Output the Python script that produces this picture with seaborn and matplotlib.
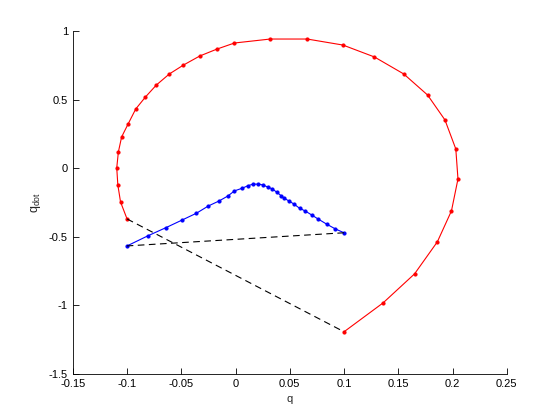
import matplotlib
matplotlib.use("Agg")
import matplotlib.pyplot as plt
import seaborn as sns
import pandas as pd

# red trajectory (q, q_dot)
red_q = [0.100, 0.136, 0.165, 0.186, 0.199, 0.205, 0.203, 0.193, 0.177, 0.155,
         0.128, 0.099, 0.066, 0.032, -0.001, -0.017, -0.033, -0.048, -0.061,
         -0.073, -0.083, -0.092, -0.099, -0.105, -0.108, -0.1095, -0.1085,
         -0.106, -0.100]
red_qdot = [-1.193, -0.982, -0.770, -0.536, -0.310, -0.077, 0.142, 0.354, 0.536,
            0.690, 0.814, 0.901, 0.945, 0.945, 0.916, 0.872, 0.821, 0.755, 0.690,
            0.609, 0.522, 0.434, 0.325, 0.230, 0.120, 0.004, -0.120, -0.245,
            -0.369]

# blue trajectory
blue_q = [-0.100, -0.081, -0.064, -0.049, -0.036, -0.025, -0.015, -0.007, -0.001,
          0.006, 0.0115, 0.016, 0.021, 0.025, 0.030, 0.034, 0.038, 0.042, 0.045,
          0.049, 0.054, 0.059, 0.064, 0.070, 0.076, 0.084, 0.092, 0.100]
blue_qdot = [-0.566, -0.493, -0.432, -0.376, -0.327, -0.274, -0.237, -0.201, -0.164,
             -0.145, -0.126, -0.115, -0.115, -0.120, -0.137, -0.150, -0.174, -0.199,
             -0.218, -0.237, -0.261, -0.291, -0.310, -0.339, -0.369, -0.407, -0.442,
             -0.470]

# impact jumps (dashed)
jump1_q = [red_q[-1], red_q[0]]
jump1_qdot = [red_qdot[-1], red_qdot[0]]
jump2_q = [blue_q[-1], blue_q[0]]
jump2_qdot = [blue_qdot[-1], blue_qdot[0]]

sns.set_style("ticks")
plt.rcParams['font.family'] = ['Liberation Sans', 'DejaVu Sans']
plt.rcParams['xtick.direction'] = 'in'
plt.rcParams['ytick.direction'] = 'in'

fig = plt.figure(figsize=(5.6, 4.2), dpi=100)
ax = fig.add_axes([0.13, 0.11, 0.775, 0.815])

red = pd.DataFrame({'q': red_q, 'qdot': red_qdot})
blue = pd.DataFrame({'q': blue_q, 'qdot': blue_qdot})

sns.lineplot(data=red, x='q', y='qdot', sort=False, estimator=None, color='red',
             lw=0.8, marker='.', markersize=4.5, markeredgecolor='red', ax=ax)
sns.lineplot(data=blue, x='q', y='qdot', sort=False, estimator=None, color='blue',
             lw=0.8, marker='.', markersize=4.5, markeredgecolor='blue', ax=ax)
sns.lineplot(x=jump1_q, y=jump1_qdot, sort=False, estimator=None, color='black',
             lw=0.8, ax=ax).lines[-1].set_dashes((6, 4))
sns.lineplot(x=jump2_q, y=jump2_qdot, sort=False, estimator=None, color='black',
             lw=0.8, ax=ax).lines[-1].set_dashes((6, 4))

ax.set_xlim(-0.15, 0.25)
ax.set_ylim(-1.5, 1)
ax.set_xticks([-0.15, -0.1, -0.05, 0, 0.05, 0.1, 0.15, 0.2, 0.25])
ax.set_xticklabels(['-0.15', '-0.1', '-0.05', '0', '0.05', '0.1', '0.15', '0.2', '0.25'])
ax.set_yticks([-1.5, -1, -0.5, 0, 0.5, 1])
ax.set_yticklabels(['-1.5', '-1', '-0.5', '0', '0.5', '1'])
ax.tick_params(labelsize=8, length=4, width=0.6, colors='black')
for s in ['top', 'right']:
    ax.spines[s].set_visible(False)
for s in ['left', 'bottom']:
    ax.spines[s].set_linewidth(0.6)
    ax.spines[s].set_color('black')
ax.set_xlabel('q', fontsize=8)
ax.set_ylabel(r'$\mathregular{q_{dot}}$', fontsize=9)

fig.savefig('out.png', dpi=100)
